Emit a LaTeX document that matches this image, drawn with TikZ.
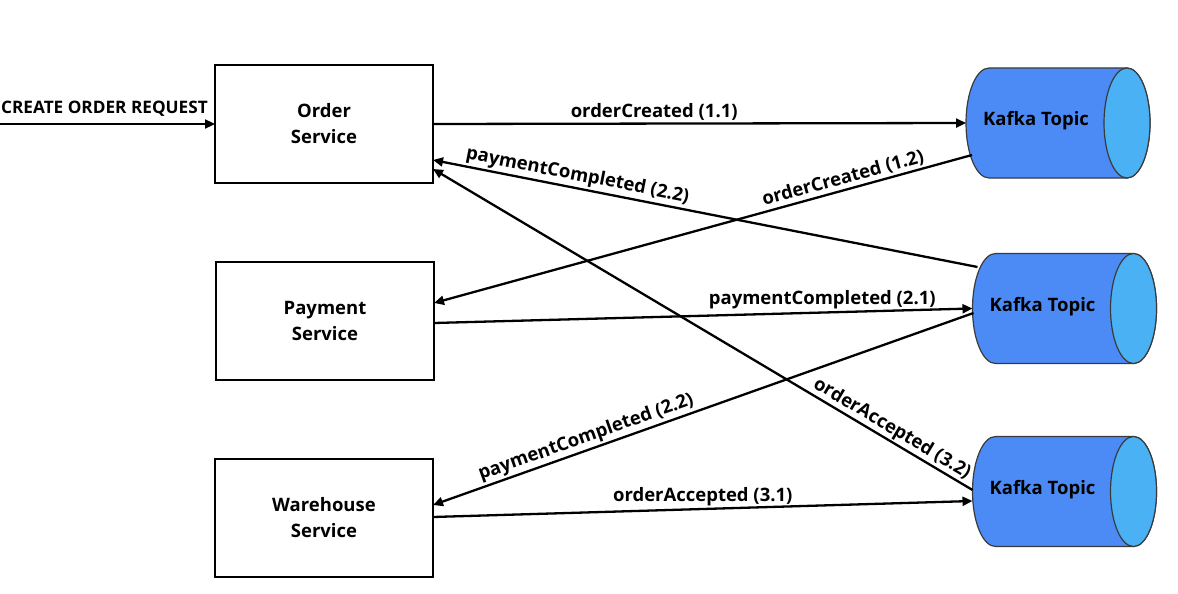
\documentclass[tikz,border=0pt]{standalone}
\usepackage{fontspec}
\setmainfont{Open Sans}
\usetikzlibrary{arrows.meta,calc}
\definecolor{kbody}{HTML}{4C8BF5}
\definecolor{kend}{HTML}{4AB1F5}
\definecolor{kline}{HTML}{3A3A3A}
% name, cx, cy
\newcommand{\kafkacyl}[3]{%
  \node[kbox] (#1) at (#2,#3) {};
  \filldraw[kbody, draw=kline, line width=1.2pt]
    ($(#1.north west)+(23,0)$) -- ($(#1.north east)+(-23,0)$)
    arc[start angle=90, end angle=-90, x radius=23pt, y radius=55pt]
    -- ($(#1.south west)+(23,0)$)
    arc[start angle=270, end angle=90, x radius=23pt, y radius=55pt] -- cycle;
  \filldraw[kend, draw=kline, line width=1.2pt]
    ($(#1.east)+(-23,0)$) ellipse [x radius=23pt, y radius=55pt];
  \node[txt] (#1t) at ($(#1)+(-22,-2)$) {Kafka Topic};
}
\begin{document}
\begin{tikzpicture}[x=1pt,y=-1pt,
  txt/.style={font=\bfseries\fontsize{18.5}{26}\selectfont},
  svc/.style={txt, draw=black, line width=1.2pt, minimum width=218pt, minimum height=118pt, align=center, inner sep=0pt, outer sep=0pt},
  kbox/.style={draw=none, minimum width=184pt, minimum height=110pt, inner sep=0pt, outer sep=0pt},
  flow/.style={line width=2.3pt, -{Triangle[length=10pt,width=9pt]}},
  lbl/.style={txt, inner sep=2pt}]
\useasboundingbox (0,0) rectangle (1178,594);

% services
\node[svc] (o) at (324,124) {Order\\Service};
\node[svc] (p) at (325,321) {Payment\\Service};
\node[svc] (w) at (324,518) {Warehouse\\Service};

% kafka topics
\kafkacyl{c1}{1058}{123}
\kafkacyl{c2}{1064.5}{308.5}
\kafkacyl{c3}{1064.5}{491.5}

% incoming request
\coordinate (req) at (0,124);
\node[txt, font=\bfseries\fontsize{17.2}{22}\selectfont, anchor=east, inner sep=1pt] (reqlbl) at (209,109) {CREATE ORDER REQUEST};
\draw[flow] (req) -- (o.west);

% flows
\draw[flow] (o.east) -- node[lbl, above, pos=0.415] {orderCreated (1.1)} (c1.west);
\draw[flow] ($(c1.west)+(6,32)$) -- node[lbl, above, sloped, pos=0.234] {orderCreated (1.2)} ($(p.east)+(0,-18)$);
\draw[flow] ($(c2.west)+(5,-41.5)$) -- node[lbl, above, sloped, pos=0.739] {paymentCompleted (2.2)} ($(o.east)+(0,36)$);
\draw[flow] ($(p.east)+(0,2)$) -- node[lbl, above, pos=0.721] {paymentCompleted (2.1)} (c2.west);
\draw[flow] ($(c2.west)+(1,4.5)$) -- node[lbl, above, sloped, pos=0.709] {paymentCompleted (2.2)} ($(w.east)+(0,-13)$);
\draw[flow] ($(w.east)+(0,-1)$) -- node[lbl, above, pos=0.5] {orderAccepted (3.1)} ($(c3.west)+(0,9.5)$);
\draw[flow] ($(c3.west)+(0,-1.5)$) -- node[lbl, above, sloped, pos=0.16, inner sep=1pt] {orderAccepted (3.2)} ($(o.east)+(0,45)$);
\end{tikzpicture}
\end{document}
